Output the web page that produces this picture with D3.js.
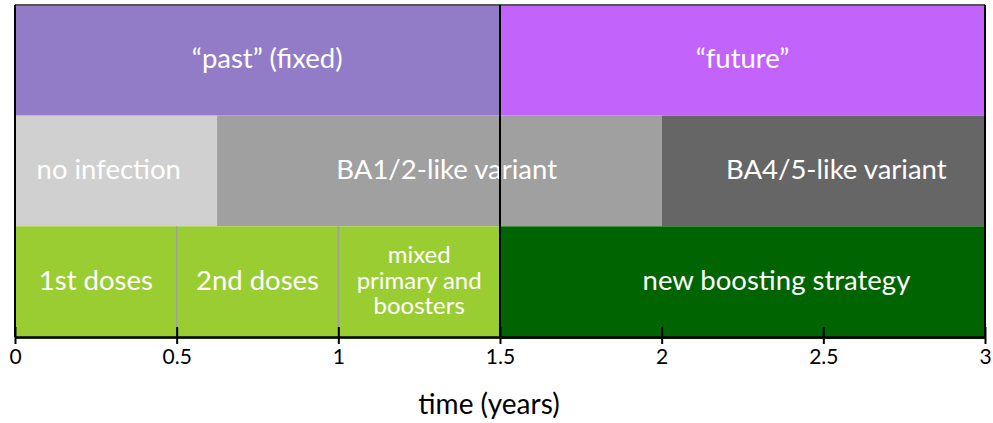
<!DOCTYPE html>
<html>
<head>
<meta charset="utf-8">
<script src="https://cdn.jsdelivr.net/npm/d3@7"></script>
<style>
  body { margin: 0; background: #fff; overflow: hidden; }
  svg { display: block; }
  text { font-family: Lato, "Open Sans", sans-serif; }
</style>
</head>
<body>
<svg id="chart"></svg>
<script>
// rows of the timeline, top to bottom
const rows = ["phase", "variant", "vaccine"];

const phaseStart = [0, 1.5];
const phaseEnd = [1.5, 3];
const phaseLabel = [["\u201Cpast\u201D (fixed)"], ["\u201Cfuture\u201D"]];
const phaseLabelAt = [0.78, 2.25];
const phaseColor = ["#927cc8", "#c264fc"];

const variantStart = [0, 0.625, 2];
const variantEnd = [0.625, 2, 3];
const variantLabel = [["no infection"], ["BA1/2-like variant"], ["BA4/5-like variant"]];
const variantLabelAt = [0.29, 1.335, 2.54];
const variantColor = ["#d0d0d0", "#a0a0a0", "#666666"];

const vaccineStart = [0, 0.5, 1, 1.5];
const vaccineEnd = [0.5, 1, 1.5, 3];
const vaccineLabel = [["1st doses"], ["2nd doses"], ["mixed", "primary and", "boosters"], ["new boosting strategy"]];
const vaccineLabelAt = [0.25, 0.75, 1.25, 2.355];
const vaccineColor = ["#9acd32", "#9acd32", "#9acd32", "#006400"];

const tickValues = [0, 0.5, 1, 1.5, 2, 2.5, 3];
const tickLabels = ["0", "0.5", "1", "1.5", "2", "2.5", "3"];

const width = 993, height = 423;
const margin = {top: 5, right: 8, bottom: 86, left: 15};

const svg = d3.select("#chart").attr("width", width).attr("height", height);

const x = d3.scaleLinear().domain([0, 3]).range([margin.left, width - margin.right]);
const y = d3.scaleBand().domain(rows).range([margin.top, height - margin.bottom]);

function build(row, starts, ends, labels, at, colors) {
  return starts.map((s, i) => ({row: row, start: s, end: ends[i], label: labels[i], at: at[i], color: colors[i]}));
}

const segments = [].concat(
  build("phase", phaseStart, phaseEnd, phaseLabel, phaseLabelAt, phaseColor),
  build("variant", variantStart, variantEnd, variantLabel, variantLabelAt, variantColor),
  build("vaccine", vaccineStart, vaccineEnd, vaccineLabel, vaccineLabelAt, vaccineColor)
);

svg.selectAll("rect.seg")
  .data(segments)
  .enter()
  .append("rect")
  .attr("class", "seg")
  .attr("x", d => x(d.start))
  .attr("y", d => y(d.row))
  .attr("width", d => x(d.end) - x(d.start))
  .attr("height", d => d.row === "vaccine" ? y.bandwidth() + 2 : y.bandwidth())
  .attr("fill", d => d.color);

// thin grey separators between the primary vaccine phases
svg.selectAll("line.sep")
  .data([0.5, 1])
  .enter()
  .append("line")
  .attr("x1", d => x(d)).attr("x2", d => x(d))
  .attr("y1", y("vaccine")).attr("y2", y("vaccine") + y.bandwidth())
  .attr("stroke", "#a0a0a0")
  .attr("stroke-width", 1.5);

// labels
const lineH = 25.5;
const labels = svg.selectAll("text.lab")
  .data(segments)
  .enter()
  .append("text")
  .attr("class", "lab")
  .attr("text-anchor", "middle")
  .attr("fill", "#fff")
  .attr("font-size", d => d.label.length > 1 ? 24 : 27.5);

labels.each(function(d) {
  const cx = x(d.at);
  const cy = y(d.row) + y.bandwidth() / 2;
  const n = d.label.length;
  d3.select(this).selectAll("tspan")
    .data(d.label)
    .enter()
    .append("tspan")
    .attr("x", cx)
    .attr("y", (t, i) => cy + (i - (n - 1) / 2) * lineH + (n > 1 ? 7 : 8))
    .text(t => t);
});

// frame
const frameTop = y("phase"), frameBottom = y("vaccine") + y.bandwidth();
svg.append("line")
  .attr("x1", x(0)).attr("x2", x(3))
  .attr("y1", frameTop).attr("y2", frameTop)
  .attr("stroke", "#555").attr("stroke-width", 2);

svg.selectAll("line.vert")
  .data([0, 1.5, 3])
  .enter()
  .append("line")
  .attr("x1", d => x(d)).attr("x2", d => x(d))
  .attr("y1", frameTop).attr("y2", frameBottom)
  .attr("stroke", "#000").attr("stroke-width", 2);

// x axis
const xaxis = d3.axisBottom(x)
  .tickValues(tickValues)
  .tickFormat((d, i) => tickLabels[i])
  .tickSizeInner(7)
  .tickSizeOuter(0)
  .tickPadding(5);

const axisG = svg.append("g")
  .attr("transform", `translate(0, ${frameBottom})`)
  .call(xaxis);

axisG.select(".domain").attr("stroke", "#000").attr("stroke-width", 2.5);
axisG.selectAll(".tick line")
  .attr("y1", -10)
  .attr("stroke", "#000")
  .attr("stroke-width", 2);
axisG.selectAll(".tick text")
  .attr("fill", "#000")
  .style("font-family", "Lato, sans-serif")
  .style("font-size", "21px");

svg.append("text")
  .attr("x", 489)
  .attr("y", 414)
  .attr("text-anchor", "middle")
  .attr("font-size", 28)
  .attr("fill", "#000")
  .text("time (years)");
</script>
</body>
</html>
